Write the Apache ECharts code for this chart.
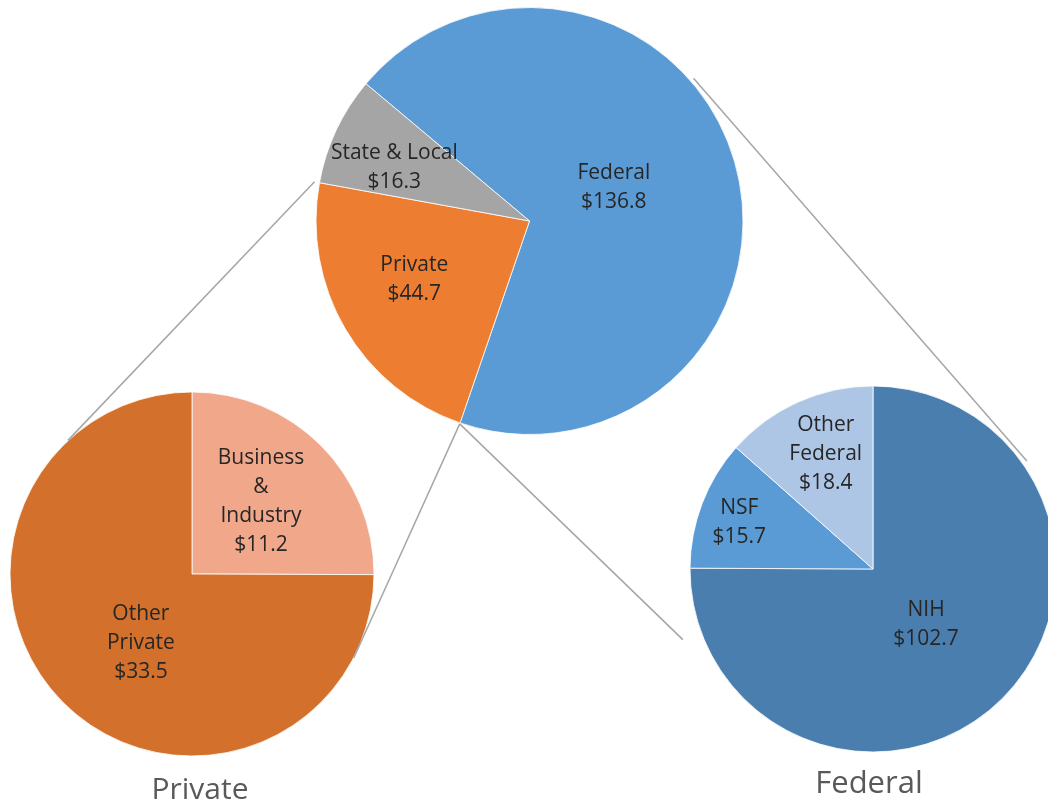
<!DOCTYPE html>
<html>
<head>
<meta charset="utf-8">
<script src="https://cdn.jsdelivr.net/npm/echarts@6/dist/echarts.min.js"></script>
<style>
  html, body { margin: 0; padding: 0; background: #fff; }
  #chart { width: 1048px; height: 807px; }
</style>
</head>
<body>
<div id="chart"></div>
<script>
// data
const mainNames = ['Federal', 'Private', 'State & Local'];
const mainValues = [136.8, 44.7, 16.3];
const privNames = ['Business\n&\nIndustry', 'Other\nPrivate'];
const privValues = [11.2, 33.5];
const fedNames = ['NIH', 'NSF', 'Other\nFederal'];
const fedValues = [102.7, 15.7, 18.4];

// layout of the three pies (pixels); k = label distance as share of radius,
// turn = label angle shift from the slice middle (degrees)
const MAIN = {c: [529.5, 221], r: 213.5, start: 140,
  k: [0.416, 0.585, 0.671], turn: [8, -4.7, 2.8],
  colors: ['#5B9BD5', '#ED7D31', '#A5A5A5']};
const PRIV = {c: [192, 574], r: 182, start: 90,
  k: [0.542, 0.443], turn: [2.4, 7.7],
  colors: ['#F1A88A', '#D2702C']};
const FED = {c: [873, 569], r: 183, start: 90,
  k: [0.392, 0.762, 0.677], turn: [0.4, 0.8, -2.4],
  colors: ['#4A7EAF', '#5B9BD5', '#AEC6E6']};

const FONT = '"Open Sans", "Liberation Sans", sans-serif';

// slice boundary angles (degrees, counter-clockwise from +x), clockwise pie
function boundaries(values, start) {
  const total = values.reduce((a, b) => a + b, 0);
  let acc = 0;
  const out = [start];
  values.forEach(v => { acc += v; out.push(start - acc / total * 360); });
  return out;
}

function pt(c, r, deg) {
  const a = deg * Math.PI / 180;
  return [c[0] + r * Math.cos(a), c[1] - r * Math.sin(a)];
}

// tangent point on circle (c, r) seen from point p (screen coords)
function tangent(p, c, r, sign) {
  const dx = p[0] - c[0], dy = p[1] - c[1];
  const d = Math.hypot(dx, dy);
  const a = Math.atan2(dy, dx) + sign * Math.acos(r / d);
  return [c[0] + r * Math.cos(a), c[1] + r * Math.sin(a)];
}

function reach(p, q, f) {
  return [p[0] + (q[0] - p[0]) * f, p[1] + (q[1] - p[1]) * f];
}

function buildSeries(names, values, L) {
  const b = boundaries(values, L.start);
  const data = values.map((v, i) => {
    const mid = (b[i] + b[i + 1]) / 2 * Math.PI / 180;
    const ang = mid + L.turn[i] * Math.PI / 180;
    const target = L.k[i] * L.r, base = 0.5 * L.r;
    return {
      name: names[i],
      value: v,
      itemStyle: {color: L.colors[i]},
      label: {offset: [
        target * Math.cos(ang) - base * Math.cos(mid),
        -target * Math.sin(ang) + base * Math.sin(mid) + 2.5
      ]}
    };
  });
  return {
    type: 'pie',
    center: L.c,
    radius: [0, L.r],
    startAngle: L.start,
    clockwise: true,
    avoidLabelOverlap: false,
    silent: true,
    itemStyle: {borderColor: '#fff', borderWidth: 0.8},
    label: {
      show: true,
      position: 'inside',
      color: '#262626',
      fontFamily: FONT,
      fontSize: 21,
      lineHeight: 29,
      align: 'center',
      formatter: p => p.name + '\n$' + p.value.toFixed(1)
    },
    labelLine: {show: false},
    data
  };
}

// connector lines
const mb = boundaries(mainValues, MAIN.start);
const pFedPriv = pt(MAIN.c, MAIN.r + 1, mb[1]);
const pPrivState = pt(MAIN.c, MAIN.r + 5, mb[2]);

const line1End = reach(pPrivState, tangent(pPrivState, PRIV.c, PRIV.r, -1), 0.97);
const line2End = reach(pFedPriv, tangent(pFedPriv, PRIV.c, PRIV.r, 1), 1.04);
const line3End = reach(pFedPriv, tangent(pFedPriv, FED.c, FED.r, -1), 0.78);

// outer tangent between main pie and federal pie
const D = [FED.c[0] - MAIN.c[0], FED.c[1] - MAIN.c[1]];
const dLen = Math.hypot(D[0], D[1]);
const u = [D[0] / dLen, D[1] / dLen];
const vPerp = [u[1], -u[0]];
const cosA = (MAIN.r - FED.r) / dLen;
const sinA = Math.sqrt(1 - cosA * cosA);
const n = [cosA * u[0] + sinA * vPerp[0], cosA * u[1] + sinA * vPerp[1]];
const t4a = [MAIN.c[0] + (MAIN.r + 4) * n[0], MAIN.c[1] + (MAIN.r + 4) * n[1]];
const t4b = reach(t4a, [FED.c[0] + (FED.r + 4) * n[0], FED.c[1] + (FED.r + 4) * n[1]], 1.04);

const lineStyle = {stroke: '#A6A6A6', lineWidth: 1.5};
function seg(a, b) {
  return {type: 'line', silent: true, z: 10,
    shape: {x1: a[0], y1: a[1], x2: b[0], y2: b[1]}, style: lineStyle};
}

const chart = echarts.init(document.getElementById('chart'));
chart.setOption({
  animation: false,
  backgroundColor: '#fff',
  series: [
    buildSeries(mainNames, mainValues, MAIN),
    buildSeries(privNames, privValues, PRIV),
    buildSeries(fedNames, fedValues, FED)
  ],
  graphic: [
    seg(pPrivState, line1End),
    seg(pFedPriv, line2End),
    seg(pFedPriv, line3End),
    seg(t4a, t4b),
    {type: 'text', x: 200, y: 790, silent: true,
      style: {text: 'Private', fill: '#595959', font: '30px ' + FONT, textAlign: 'center', textVerticalAlign: 'middle'}},
    {type: 'text', x: 869, y: 784, silent: true,
      style: {text: 'Federal', fill: '#595959', font: '31px ' + FONT, textAlign: 'center', textVerticalAlign: 'middle'}}
  ]
});
</script>
</body>
</html>
